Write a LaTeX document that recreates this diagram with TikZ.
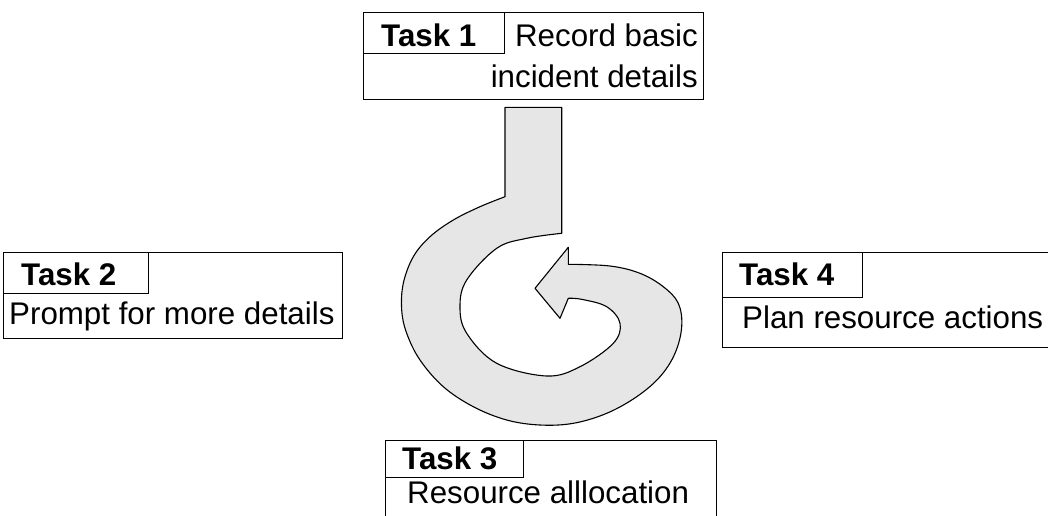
\documentclass[tikz,border=0pt]{standalone}
\usepackage{fontspec}
\setmainfont{Liberation Sans}
\begin{document}
\begin{tikzpicture}[x=1pt,y=-1pt,
  box/.style={draw,line width=1.1pt,anchor=north west,inner sep=0pt},
  txt/.style={font=\fontsize{31.3}{36}\selectfont,inner sep=0pt},
  lbl/.style={font=\fontsize{31.3}{36}\selectfont\bfseries,inner sep=0pt}]
\useasboundingbox (0,0) rectangle (1048,515);
% Task 1
\node[box,minimum width=340pt,minimum height=87pt] (b1) at (363,12) {};
\node[box,minimum width=141pt,minimum height=41pt] (l1) at (363,12) {};
\node[lbl,anchor=base west] (t1) at (381,46.7) {Task 1};
\node[txt,anchor=base east] (r1) at (698,46.7) {Record basic};
\node[txt,anchor=base east] (r2) at (698,87.3) {incident details};
% Task 2
\node[box,minimum width=339pt,minimum height=86pt] (b2) at (3,252) {};
\node[box,minimum width=145pt,minimum height=41pt] (l2) at (3,252) {};
\node[lbl,anchor=base west] (t2) at (21,285) {Task 2};
\node[txt,anchor=base west] (p2) at (9,324) {Prompt for more details};
% Task 4
\node[box,minimum width=340pt,minimum height=95pt] (b4) at (722,252) {};
\node[box,minimum width=140pt,minimum height=45pt] (l4) at (722,252) {};
\node[lbl,anchor=base west] (t4) at (739,285) {Task 4};
\node[txt,anchor=base west] (p4) at (742,328.3) {Plan resource actions};
% Task 3
\node[box,minimum width=331pt,minimum height=90pt] (b3) at (385,440) {};
\node[box,minimum width=138pt,minimum height=37pt] (l3) at (385,440) {};
\node[lbl,anchor=base west] (t3) at (402,469.3) {Task 3};
\node[txt,anchor=base west] (p3) at (407,503.3) {Resource alllocation};
% spiral arrow
\draw[line width=1.1pt,fill={rgb,255:red,230;green,230;blue,230},line join=round]
  (505,107.3) -- (505,196.7)
  -- plot[smooth,tension=0.6] coordinates {(505,196.7) (480,206.7) (453.3,220) (430,236.7) (413.3,256.7) (403.3,283.3) (401.7,310) (406.7,333.3) (420,360) (443.3,386.7) (473.3,406.7) (506.7,420) (540,425) (573.3,423.3) (606.7,413.3) (636.7,396.7) (660,376.7) (675,353.3) (681.7,326.7) (678.3,303.3) (663.3,286.7) (640,273.3) (610,266) (568.3,264.3)}
  -- (568.3,247.3) -- (535,288.3) -- (560,318.3) -- (568.3,298.3)
  -- plot[smooth,tension=0.6] coordinates {(568.3,298.3) (581.7,299.3) (606.7,306.7) (620,323.3) (613.3,343.3) (580,366.7) (546.7,376) (496.7,363.3) (466.7,333.3) (460,306.7) (466.7,280) (496.7,248.3) (526.7,238.3) (561.7,233.3)}
  -- (561.7,107.3) -- cycle;
\end{tikzpicture}
\end{document}
